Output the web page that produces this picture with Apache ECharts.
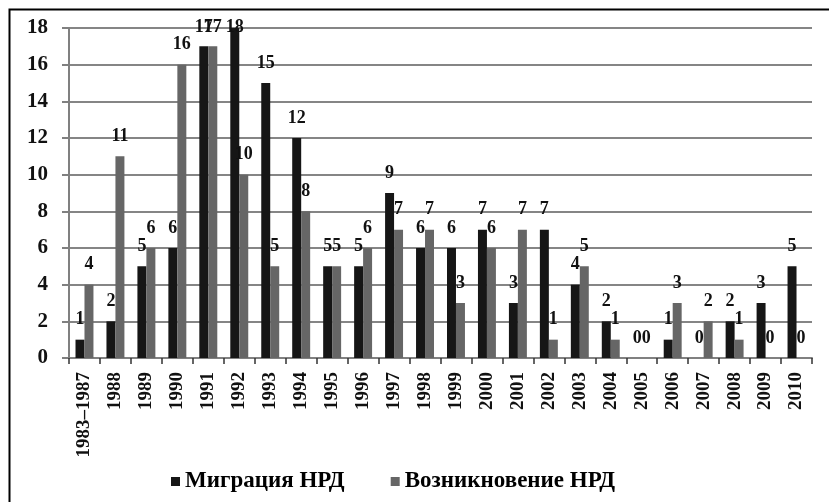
<!DOCTYPE html>
<html>
<head>
<meta charset="utf-8">
<script src="https://cdn.jsdelivr.net/npm/echarts@6/dist/echarts.min.js"></script>
<style>
html,body{margin:0;padding:0;background:#fff;}
#c{width:829px;height:502px;}
</style>
</head>
<body>
<div id="c"></div>
<script>
var categories = ['1983–1987','1988','1989','1990','1991','1992','1993','1994','1995','1996','1997','1998','1999','2000','2001','2002','2003','2004','2005','2006','2007','2008','2009','2010'];
var migration = [1,2,5,6,17,18,15,12,5,5,9,6,6,7,3,7,4,2,0,1,0,2,3,5];
var emergence = [4,11,6,16,17,10,5,8,5,6,7,7,3,6,7,1,5,1,0,3,2,1,0,0];
var seriesNames = ['Миграция НРД','Возникновение НРД'];

var FONT = "'Liberation Serif','Times New Roman',serif";
var chart = echarts.init(document.getElementById('c'), null, {renderer:'canvas'});

var labelCfg = {
  show: true, position: 'top', distance: 11,
  fontFamily: FONT, fontWeight: 'bold', fontSize: 18, color: '#111'
};
function clampLayout(params){
  var r = params.labelRect;
  if (r.y < 18) {
    return {x: r.x + r.width/2, y: 18, align: 'center', verticalAlign: 'top'};
  }
}

chart.setOption({
  animation: false,
  backgroundColor: '#fff',
  graphic: [{
    type: 'rect', left: 7, top: 7, silent: true,
    shape: {x: 0, y: 0, width: 900, height: 600},
    style: {fill: 'none', stroke: '#000', lineWidth: 2}
  }],
  grid: {left: 69, top: 28, width: 743, height: 330, containLabel: false},
  legend: {
    left: 166, top: 465,
    itemWidth: 9, itemHeight: 9, itemGap: 46,
    icon: 'rect',
    data: seriesNames,
    textStyle: {fontFamily: FONT, fontWeight: 'bold', fontSize: 23, color: '#000'}
  },
  xAxis: {
    type: 'category',
    data: categories,
    axisLine: {lineStyle: {color: '#808080', width: 2}},
    axisTick: {show: true, length: 6, lineStyle: {color: '#333', width: 1.5}},
    axisLabel: {
      rotate: 90, interval: 0, margin: 14,
      fontFamily: FONT, fontWeight: 'bold', fontSize: 19, color: '#111'
    },
    splitLine: {show: false}
  },
  yAxis: {
    type: 'value', min: 0, max: 18, interval: 2,
    axisLine: {show: true, lineStyle: {color: '#808080', width: 2}},
    axisTick: {show: true, length: 7, lineStyle: {color: '#808080', width: 2}},
    axisLabel: {margin: 21, fontFamily: FONT, fontWeight: 'bold', fontSize: 21, color: '#111'},
    splitLine: {lineStyle: {color: '#858585', width: 2}}
  },
  series: [{
    name: seriesNames[0], type: 'bar', data: migration,
    barGap: '0%', barCategoryGap: '42%',
    itemStyle: {color: '#161616'},
    label: labelCfg,
    labelLayout: clampLayout
  },{
    name: seriesNames[1], type: 'bar', data: emergence,
    barGap: '0%', barCategoryGap: '42%',
    itemStyle: {color: '#666666'},
    label: labelCfg,
    labelLayout: clampLayout
  }]
});
</script>
</body>
</html>
